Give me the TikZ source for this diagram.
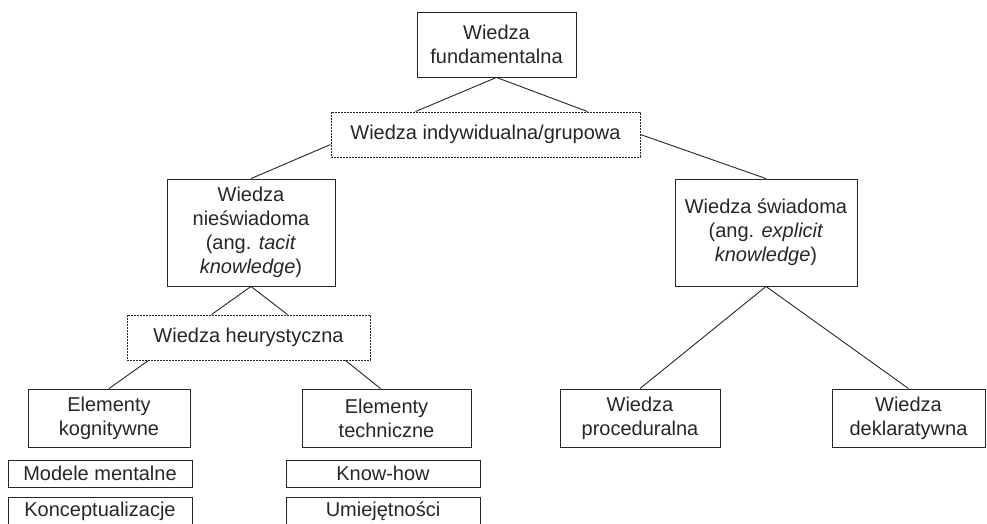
\documentclass[tikz,border=0pt]{standalone}
\usepackage{fontspec}
\setmainfont{Liberation Sans}
\begin{document}
\begin{tikzpicture}[x=1pt,y=-1pt,
  box/.style={draw=black!85, text=black!85, line width=0.9pt, align=center, inner sep=0pt, font=\fontsize{20}{24.2}\selectfont},
  dotbox/.style={box, dash pattern=on 1.6pt off 1.4pt},
  link/.style={draw=black!85, line width=0.9pt}]
\clip (0,0) rectangle (987,523);
\node[box, minimum width=159pt, minimum height=65pt] (fund) at (496.5,44.5){Wiedza\\fundamentalna};
\node[dotbox, minimum width=309pt, minimum height=45pt] (indyw) at (485.5,134.5){Wiedza indywidualna/grupowa};
\node[box, minimum width=168pt, minimum height=107pt] (niesw) at (251,232.5){Wiedza\\nieświadoma\\(ang. \textit{tacit}\\\textit{knowledge})};
\node[box, minimum width=182pt, minimum height=107pt] (swiad) at (766,232.5){Wiedza świadoma\\(ang. \textit{explicit}\\\textit{knowledge})};
\draw[link](fund.south) -- ([xshift=-70pt]indyw.north);
\draw[link](fund.south) -- ([xshift=102pt]indyw.north);
\draw[link]([yshift=-10pt]indyw.west) -- (niesw.north);
\draw[link](indyw.east) -- (swiad.north);
\node[dotbox, minimum width=243pt, minimum height=45pt] (heur) at (248.5,337.5){Wiedza heurystyczna};
\draw[link](niesw.south) -- ([xshift=-37pt]heur.north);
\draw[link](niesw.south) -- ([xshift=39pt]heur.north);
\node[box, minimum width=162pt, minimum height=58pt] (kogn) at (109,418){Elementy\\kognitywne};
\node[box, minimum width=169pt, minimum height=58pt] (techn) at (386.5,418){Elementy\\techniczne};
\draw[link]([xshift=22pt]heur.south west) -- (kogn.north);
\draw[link]([xshift=-25pt]heur.south east) -- ([xshift=-6pt]techn.north);
\node[box, minimum width=160pt, minimum height=58pt] (proc) at (640,418){Wiedza\\proceduralna};
\node[box, minimum width=153pt, minimum height=58pt] (dekl) at (908.5,418){Wiedza\\deklaratywna};
\draw[link](swiad.south) -- (proc.north);
\draw[link](swiad.south) -- (dekl.north);
\node[box, minimum width=184pt, minimum height=27pt] (model) at (100,473.5){Modele mentalne};
\node[box, minimum width=184pt, minimum height=27pt] (konc) at (100,511){Konceptualizacje};
\node[box, minimum width=194pt, minimum height=27pt] (know) at (383,473.5){Know-how};
\node[box, minimum width=194pt, minimum height=27pt] (umiej) at (383,511){Umiejętności};

\end{tikzpicture}
\end{document}
